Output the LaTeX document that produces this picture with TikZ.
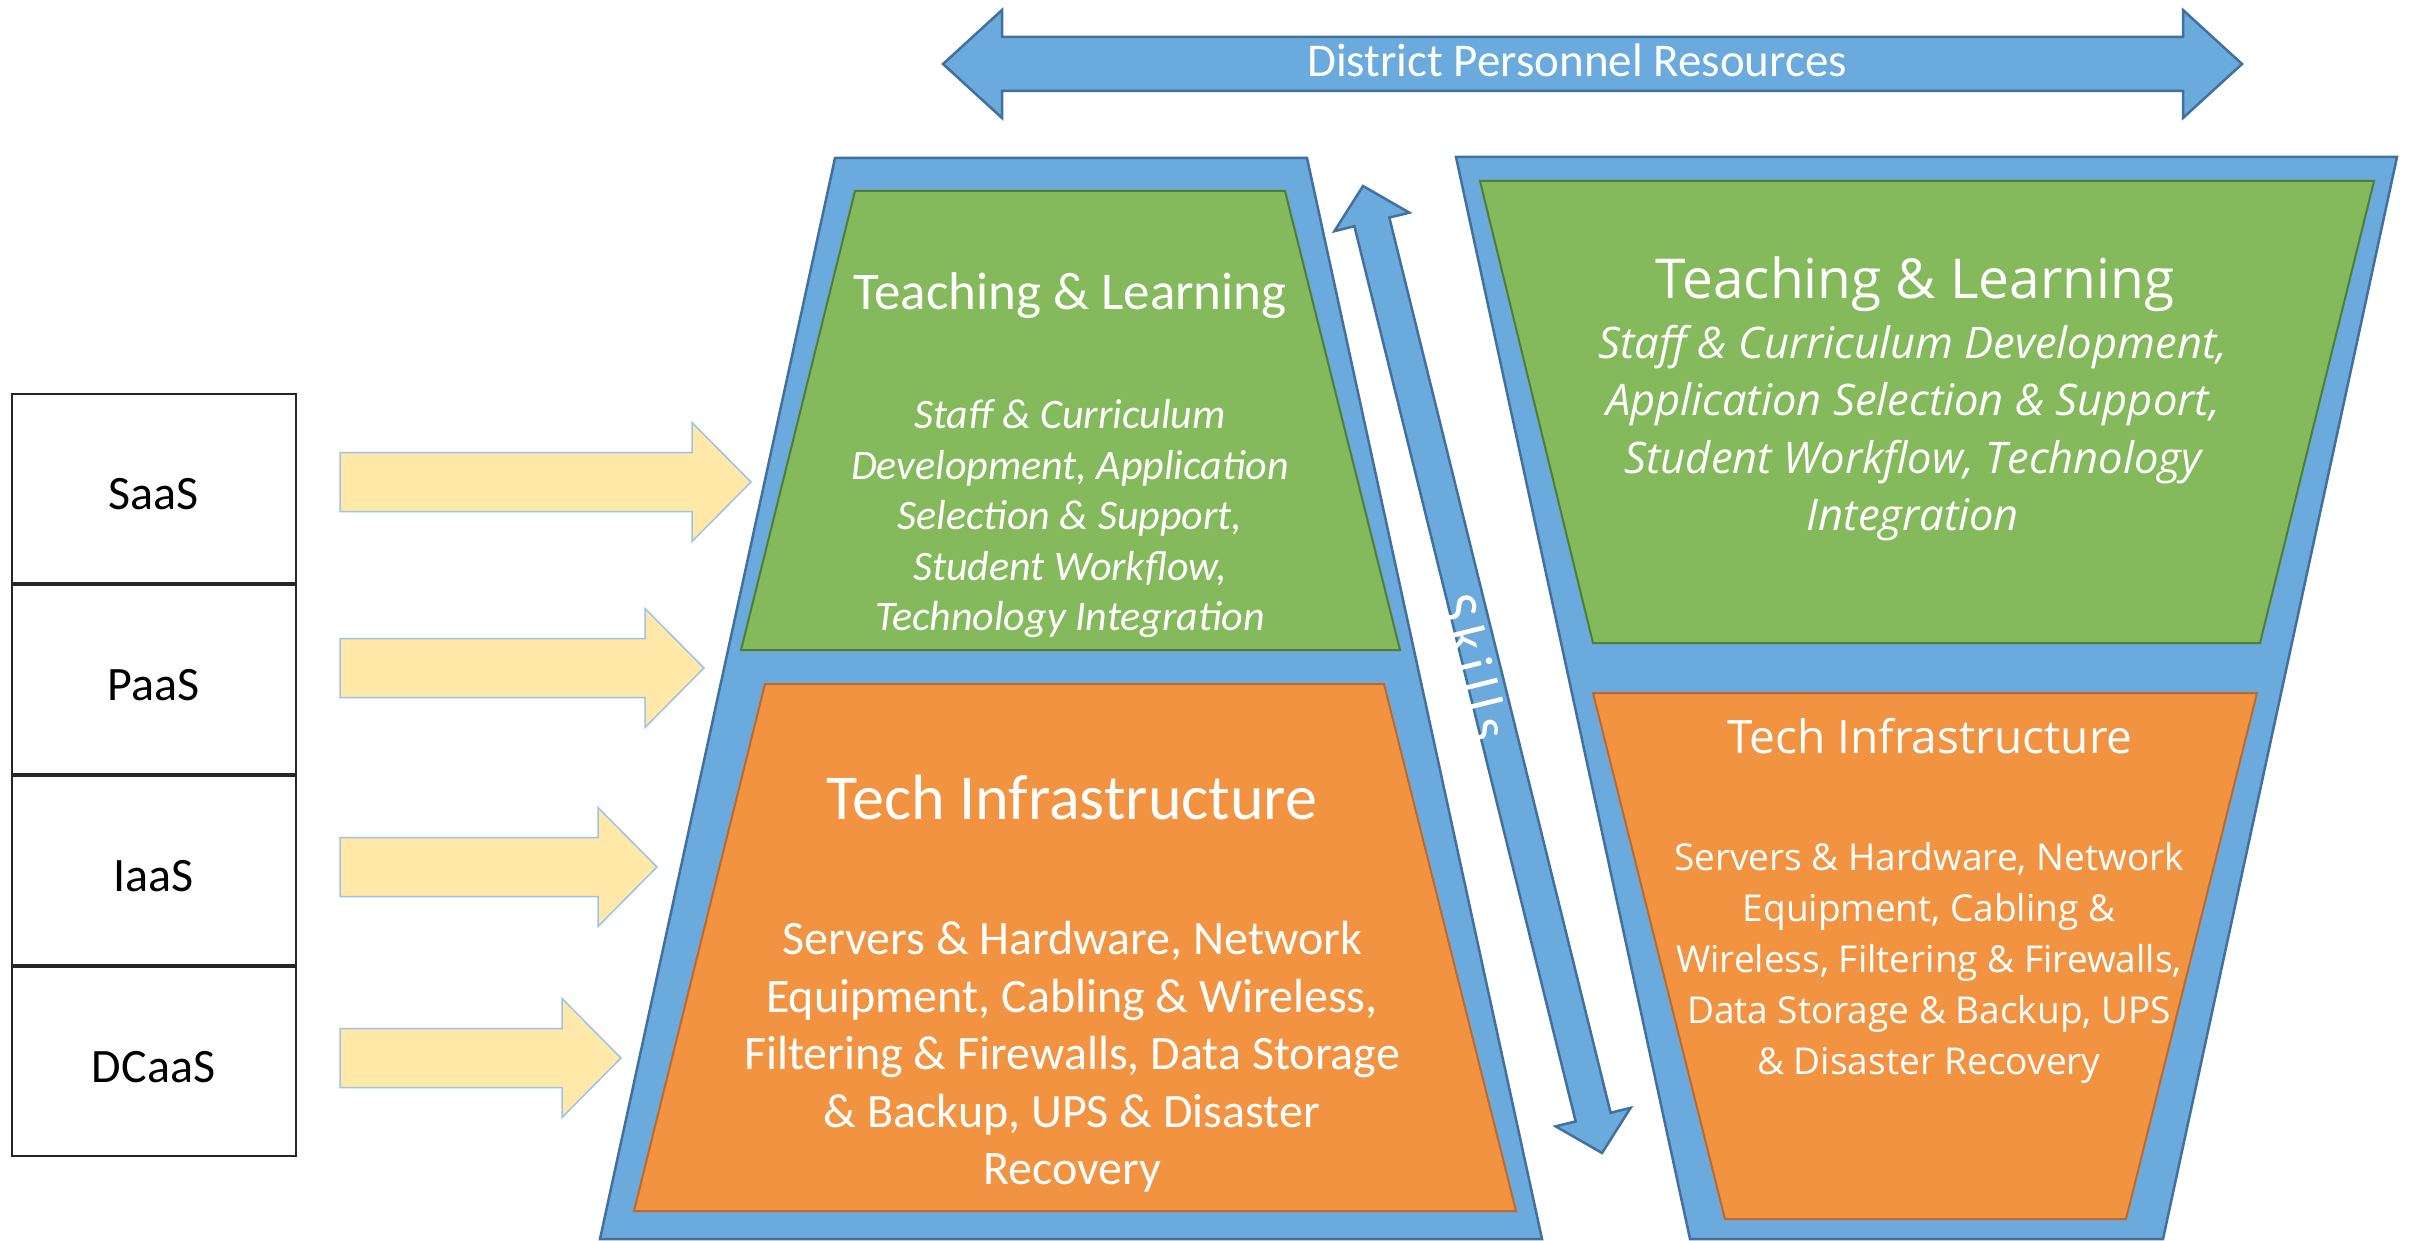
\documentclass[tikz,border=0pt]{standalone}
\usepackage{fontspec}
\setmainfont{Carlito}
\newfontfamily\widesans{Open Sans}
\usetikzlibrary{ arrows.meta
               , calc
               , positioning
               }
\definecolor{panelBlue}{HTML}{6AAADC}
\definecolor{panelLine}{HTML}{41719C}
\definecolor{tlGreen}{HTML}{84BA5B}
\definecolor{tlLine}{HTML}{507E32}
\definecolor{tiOrange}{HTML}{F29341}
\definecolor{tiLine}{HTML}{C0692B}
\definecolor{feedFill}{HTML}{FFE8A8}
\definecolor{feedLine}{HTML}{9DC3E6}

\begin{document}
\begin{tikzpicture}
      [ x=1pt, y=-1pt
      , panel/.style={fill=panelBlue, draw=panelLine, line width=2.5pt}
      , teach/.style={fill=tlGreen, draw=tlLine, line width=2pt}
      , infra/.style={fill=tiOrange, draw=tiLine, line width=2pt}
      , feed/.style={fill=feedFill, draw=feedLine, line width=1.5pt}
      , service/.style={draw=black!85, line width=2pt, minimum width=284pt
                       , minimum height=189pt, text height=42pt, text depth=0pt
                       , font=\fontsize{48}{58}\selectfont}
      , light/.style={text=white, align=center}
      ]
    \useasboundingbox (0,0) rectangle (2418,1241);

    % left panel
    \draw[panel] (835,158) -- (1307,158) -- (1542,1239) -- (600,1239) -- cycle;
    \draw[teach] (855,191) -- (1285,191) -- (1400,650) -- (741,650) -- cycle;
    \draw[infra] (765,684) -- (1384,684) -- (1516,1211) -- (634,1211) -- cycle;

    % right panel
    \draw[panel] (1456,157) -- (2397,157) -- (2163,1239) -- (1690,1239) -- cycle;
    \draw[teach] (1480,181) -- (2374,181) -- (2260,643) -- (1593,643) -- cycle;
    \draw[infra] (1593,693) -- (2257,693) -- (2126,1219) -- (1725,1219) -- cycle;

    \node[light, font=\fontsize{53}{64}\selectfont] (TLL) at (1070,296)
      {Teaching \& Learning};
    \node[light, font=\itshape\fontsize{42}{50.5}\selectfont] (TLLbody) at (1070,519)
      {Staff \& Curriculum\\Development, Application\\Selection \& Support,\\
       Student Workflow,\\Technology Integration};
    \node[light, font=\fontsize{64}{76}\selectfont] (TIL) at (1072,798)
      {Tech Infrastructure};
    \node[light, font=\fontsize{48}{57.5}\selectfont] (TILbody) at (1072,1057)
      {Servers \& Hardware, Network\\Equipment, Cabling \& Wireless,\\
       Filtering \& Firewalls, Data Storage\\\& Backup, UPS \& Disaster\\Recovery};

    \node[light, font=\widesans\fontsize{55}{66}\selectfont] (TLR) at (1915,284)
      {Teaching \& Learning};
    \node[light, font=\widesans\itshape\fontsize{43.5}{57.5}\selectfont] (TLRbody) at (1913,433)
      {Staff \& Curriculum Development,\\Application Selection \& Support,\\
       Student Workflow, Technology\\Integration};
    \node[light, font=\widesans\fontsize{46}{55}\selectfont] (TIR) at (1930,736)
      {Tech Infrastructure};
    \node[light, font=\widesans\fontsize{37}{51}\selectfont] (TIRbody) at (1929,963)
      {Servers \& Hardware, Network\\Equipment, Cabling \&\\
       Wireless, Filtering \& Firewalls,\\Data Storage \& Backup, UPS\\\& Disaster Recovery};

    % district arrow
    \draw[panel] (943,64) -- (1002,10) -- (1002,37) -- (2183,37) -- (2183,10)
      -- (2242,64) -- (2183,118) -- (2183,91) -- (1002,91) -- (1002,118) -- cycle;
    \node[light, font=\fontsize{47}{56}\selectfont, anchor=base] (DPR) at (1577,77)
      {District Personnel Resources};

    % skills arrow
    \coordinate (sk1) at (1363,186);
    \coordinate (sk2) at (1602,1153);
    \coordinate (h1) at ($(sk1)!37pt!(sk2)$);
    \coordinate (h2) at ($(sk2)!37pt!(sk1)$);
    \draw[panel] (sk1) -- ($(h1)!38.6pt!-90:(sk2)$) -- ($(h1)!18pt!-90:(sk2)$)
      -- ($(h2)!18pt!90:(sk1)$) -- ($(h2)!38.6pt!90:(sk1)$) -- (sk2)
      -- ($(h2)!38.6pt!-90:(sk1)$) -- ($(h2)!18pt!-90:(sk1)$)
      -- ($(h1)!18pt!90:(sk2)$) -- ($(h1)!38.6pt!90:(sk2)$) -- cycle;
    \node[light, rotate=-76.1, font=\addfontfeature{LetterSpace=14}\fontsize{55}{62}\selectfont]
      (skills) at (1475,667) {Skills};

    % service models
    \node[service] (saas) at (153.5,488) {SaaS};
    \node[service, below=0pt of saas] (paas) {PaaS};
    \node[service, below=0pt of paas] (iaas) {IaaS};
    \node[service, below=0pt of iaas] (dcaas) {DCaaS};

    \foreach \ya/\xb in {482/692, 668/645, 867/598, 1058/562}
      \draw[feed] (340,\ya-29.5) -- (\xb,\ya-29.5) -- (\xb,\ya-59.5) -- (\xb+59,\ya)
        -- (\xb,\ya+59.5) -- (\xb,\ya+29.5) -- (340,\ya+29.5) -- cycle;
\end{tikzpicture}
\end{document}
